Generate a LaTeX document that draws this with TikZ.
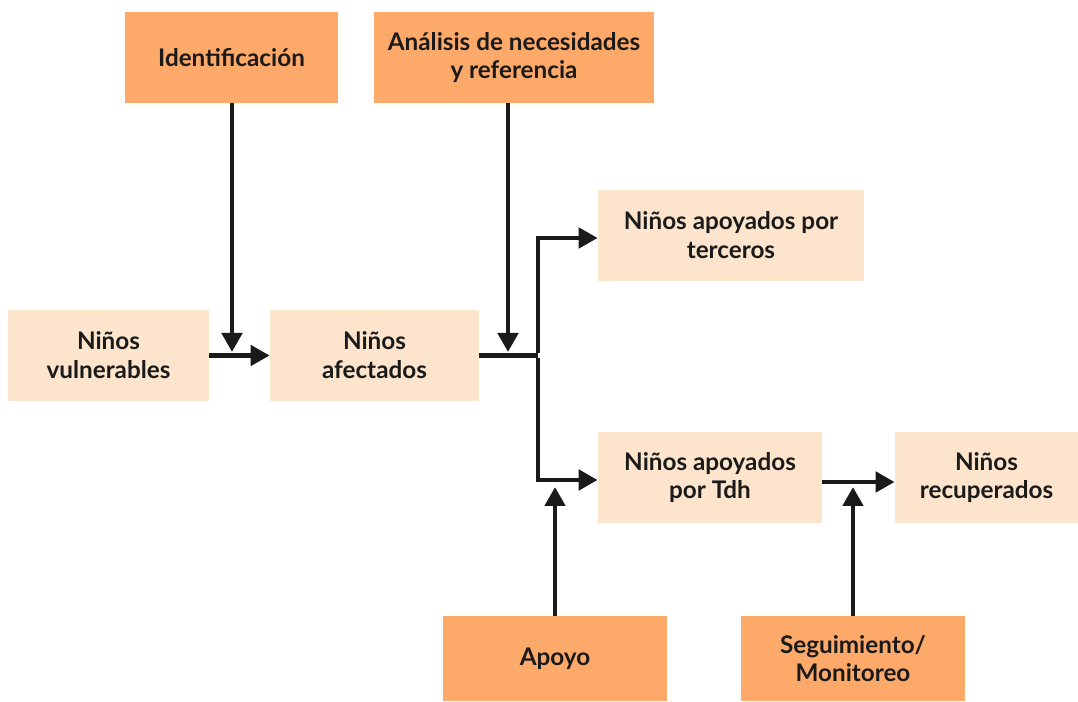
\documentclass[tikz,border=0pt]{standalone}
\usepackage{fontspec}
\setmainfont{Lato}[BoldFont={Lato Bold}]
\usetikzlibrary{arrows.meta}
\definecolor{darkbox}{HTML}{FDA96A}
\definecolor{lightbox}{HTML}{FDE4CC}
\definecolor{ink}{HTML}{1A1A1A}

\begin{document}
\begin{tikzpicture}[
  every node/.style={font=\bfseries\fontsize{13.8}{16.4}\selectfont, text=ink, align=center, inner sep=0pt},
  actbox/.style={fill=darkbox, minimum height=1.82cm},
  kidbox/.style={fill=lightbox, minimum height=1.82cm},
  arr/.style={draw=ink, line width=2.8pt, -{Triangle[length=0.38cm,width=0.4cm]}},
  wire/.style={draw=ink, line width=2.8pt}
]
  \useasboundingbox (0,0) rectangle (21.56,-14.04);
  % top row
  \node[actbox, minimum width=4.26cm] (ident) at (4.63,-1.15) {Identificación};
  \node[actbox, minimum width=5.6cm] (anal) at (10.28,-1.15) {Análisis de necesidades\\y referencia};
  % children
  \node[kidbox, minimum width=5.32cm] (terc) at (14.62,-4.71) {Niños apoyados por\\terceros};
  \node[kidbox, minimum width=4.02cm] (vuln) at (2.17,-7.11) {Niños\\vulnerables};
  \node[kidbox, minimum width=4.18cm] (afec) at (7.49,-7.11) {Niños\\afectados};
  \node[kidbox, minimum width=4.48cm] (tdh) at (14.2,-9.55) {Niños apoyados\\por Tdh};
  \node[kidbox, minimum width=3.66cm] (recup) at (19.73,-9.55) {Niños\\recuperados};
  % bottom row
  \node[actbox, minimum width=4.48cm, minimum height=1.7cm] (apoyo) at (11.1,-13.17) {Apoyo};
  \node[actbox, minimum width=4.48cm, minimum height=1.7cm] (segui) at (17.06,-13.17) {Seguimiento/\\Monitoreo};

  \coordinate (j1) at (4.64,-7.04);
  \coordinate (j2) at (10.16,-7.04);
  \coordinate (split) at (10.76,-7.11);
  \coordinate (j3) at (11.1,-9.74);
  \coordinate (j4) at (17.06,-9.74);

  \draw[arr] (vuln) -- (afec);
  \draw[arr] (ident.south -| j1) -- (j1);
  \draw[arr] (anal.south -| j2) -- (j2);
  \draw[wire] (afec.east) -- (split);
  \draw[arr] ([yshift=1.4pt]split) |- ([yshift=-0.05cm]terc.west);
  \draw[arr] ([yshift=-1.4pt]split) |- ([yshift=-0.05cm]tdh.west);
  \draw[arr] (apoyo) -- (j3);
  \draw[arr] (segui) -- (j4);
  \draw[arr] ([yshift=-0.09cm]tdh.east) -- ([yshift=-0.09cm]recup.west);
\end{tikzpicture}
\end{document}
